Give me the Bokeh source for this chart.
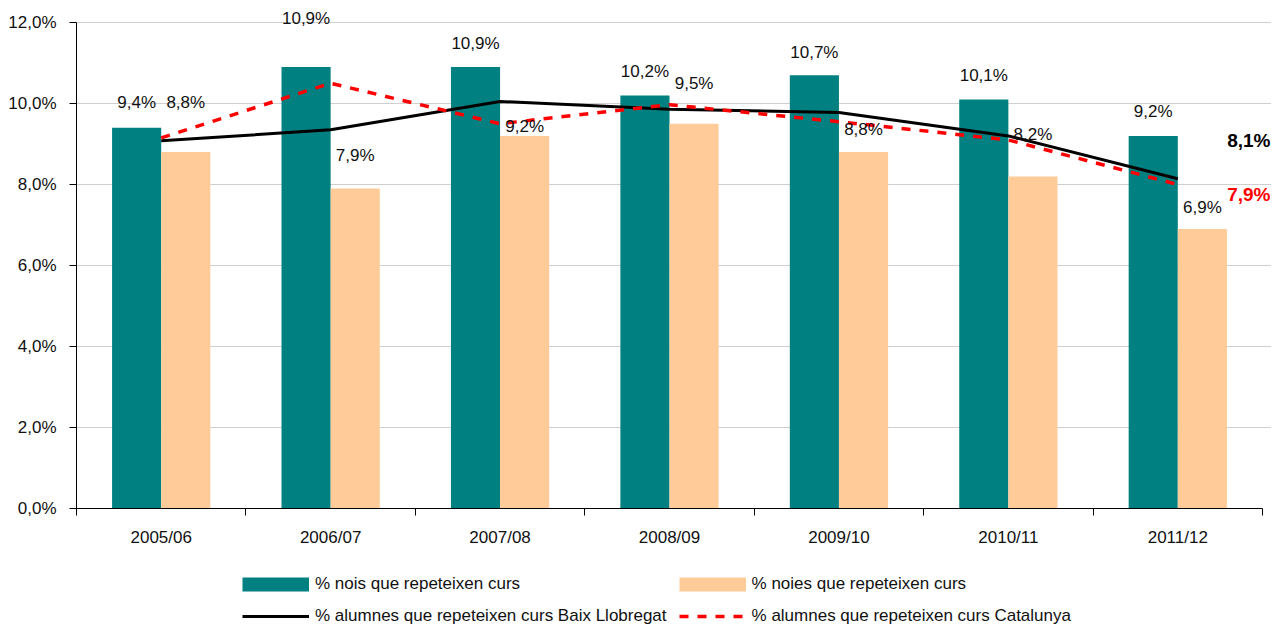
from bokeh.plotting import figure
from bokeh.layouts import column
from bokeh.models import (ColumnDataSource, Range1d, LinearAxis, FixedTicker, Legend, LegendItem,
                          Label, Grid)
from bokeh.transform import dodge
from bokeh.core.properties import value
from bokeh.embed import file_html
from bokeh.resources import INLINE

# ---------------- data ----------------
cursos = ["2005/06", "2006/07", "2007/08", "2008/09", "2009/10", "2010/11", "2011/12"]
nois = [9.4, 10.9, 10.9, 10.2, 10.7, 10.1, 9.2]
noies = [8.8, 7.9, 9.2, 9.5, 8.8, 8.2, 6.9]
baix_llobregat = [9.08, 9.35, 10.05, 9.86, 9.78, 9.2, 8.14]
catalunya = [9.15, 10.5, 9.5, 9.97, 9.55, 9.1, 8.0]
y_ticks = [0, 2, 4, 6, 8, 10, 12]
y_tick_labels = ["0,0%", "2,0%", "4,0%", "6,0%", "8,0%", "10,0%", "12,0%"]
final_labels = ["8,1%", "7,9%"]
series_names = ["% nois que repeteixen curs", "% noies que repeteixen curs",
                "% alumnes que repeteixen curs Baix Llobregat",
                "% alumnes que repeteixen curs Catalunya"]

# label placement (pixels above each bar top) -- layout only
off_nois = [25, 49, 24, 24, 23, 24, 24]
off_noies = [50, 33, 9, 40, 23, 42, 22]

TEAL = "#008080"
PEACH = "#FFCC99"
FONT = "Liberation Sans"
TXT = "#111111"
NAN = float("nan")


def fmt(v):
    return ("%.1f" % v).replace(".", ",") + "%"


n = len(cursos)
centers = [i + 0.5 for i in range(n)]          # category slot centres
bounds = list(range(n + 1))                     # category slot edges

src = ColumnDataSource(dict(
    xc=centers, nois=nois, noies=noies, baix=baix_llobregat, cat=catalunya,
    nois_lbl=[fmt(v) for v in nois], noies_lbl=[fmt(v) for v in noies],
    nois_off=[-o for o in off_nois], noies_off=[-o for o in off_noies],
))

p = figure(width=1271, height=552, x_range=Range1d(0, n + 0.053), y_range=Range1d(0, 12.543),
           output_backend="svg", toolbar_location=None, x_axis_location=None,
           y_axis_location=None, min_border_left=76, min_border_right=0,
           min_border_top=0, min_border_bottom=44)
p.outline_line_color = None
p.background_fill_color = "white"
p.border_fill_color = "white"
for g in p.grid:
    g.visible = False

# y axis
yax = LinearAxis(ticker=FixedTicker(ticks=y_ticks), bounds=(0, 12),
                 major_label_overrides={t: l for t, l in zip(y_ticks, y_tick_labels)})
yax.axis_line_color = "black"
yax.major_tick_line_color = "black"
yax.major_tick_out = 7
yax.major_tick_in = 0
yax.minor_tick_line_color = None
yax.major_label_standoff = 13
yax.major_label_text_font = FONT
yax.major_label_text_font_size = "17px"
yax.major_label_text_color = TXT
p.add_layout(yax, "left")

# x axis: labels at slot centres, tick marks at slot edges
xax = LinearAxis(ticker=FixedTicker(ticks=centers, minor_ticks=bounds), bounds=(0, n),
                 major_label_overrides={c: name for c, name in zip(centers, cursos)})
xax.axis_line_color = "black"
xax.major_tick_line_color = None
xax.major_tick_out = 7
xax.major_tick_in = 0
xax.minor_tick_line_color = "black"
xax.minor_tick_out = 7
xax.minor_tick_in = 0
xax.major_label_standoff = 12
xax.major_label_text_font = FONT
xax.major_label_text_font_size = "17px"
xax.major_label_text_color = TXT
p.add_layout(xax, "below")

p.add_layout(Grid(dimension=1, ticker=FixedTicker(ticks=y_ticks), grid_line_color="#CFCFCF"))

# bars
p.vbar(x=dodge("xc", -0.145), top="nois", width=0.29, source=src,
       fill_color=TEAL, line_color=None)
p.vbar(x=dodge("xc", 0.145), top="noies", width=0.29, source=src,
       fill_color=PEACH, line_color=None)

# lines
p.line(x="xc", y="baix", source=src, line_color="black", line_width=3)
p.line(x="xc", y="cat", source=src, line_color="#FF0000", line_width=3.5, line_dash="9 9")

# value labels
p.text(x=dodge("xc", -0.145), y="nois", text="nois_lbl", y_offset="nois_off",
       source=src, text_align="center", text_baseline="middle", text_font=value(FONT),
       text_font_size="17px", text_color=TXT)
p.text(x=dodge("xc", 0.145), y="noies", text="noies_lbl", y_offset="noies_off",
       source=src, text_align="center", text_baseline="middle", text_font=value(FONT),
       text_font_size="17px", text_color=TXT)

# end labels
p.add_layout(Label(x=1194, x_units="screen", y=baix_llobregat[-1], y_units="data", y_offset=38,
                   text=final_labels[0], text_align="right", text_baseline="middle",
                   text_font=FONT, text_font_size="19px", text_font_style="bold",
                   text_color="black"))
p.add_layout(Label(x=1194, x_units="screen", y=catalunya[-1], y_units="data", y_offset=-10,
                   text=final_labels[1], text_align="right", text_baseline="middle",
                   text_font=FONT, text_font_size="19px", text_font_style="bold",
                   text_color="#FF0000"))

# ---------------- legend strip ----------------
lg = figure(width=1271, height=75, x_range=Range1d(0, 1), y_range=Range1d(0, 1),
            output_backend="svg", toolbar_location=None, x_axis_location=None,
            y_axis_location=None, min_border_left=0, min_border_right=0,
            min_border_top=0, min_border_bottom=0)
lg.outline_line_color = None
for g in lg.grid:
    g.visible = False

# legend-only swatches (no visible data points)
d_nois = lg.line(x=[NAN, NAN], y=[NAN, NAN], line_color=TEAL, line_width=14)
d_noies = lg.line(x=[NAN, NAN], y=[NAN, NAN], line_color=PEACH, line_width=14)
d_bl = lg.line(x=[NAN, NAN], y=[NAN, NAN], line_color="black", line_width=3)
d_cat = lg.line(x=[NAN, NAN], y=[NAN, NAN], line_color="#FF0000", line_width=3.5,
                line_dash="9 9")

legend = Legend(items=[
    LegendItem(label=series_names[0], renderers=[d_nois]),
    LegendItem(label=series_names[1], renderers=[d_noies]),
    LegendItem(label=series_names[2], renderers=[d_bl]),
    LegendItem(label=series_names[3], renderers=[d_cat]),
], orientation="horizontal", ncols=2, location=(166, 1))
legend.glyph_width = 67
legend.glyph_height = 20
legend.label_height = 20
legend.label_standoff = 6
legend.spacing = 12
legend.padding = 0
legend.margin = 0
legend.border_line_color = None
legend.background_fill_alpha = 0
legend.label_text_font = FONT
legend.label_text_font_size = "17px"
legend.label_text_color = TXT
lg.add_layout(legend)

layout = column(p, lg, spacing=0)
open("out.html", "w").write(file_html(layout, INLINE))
